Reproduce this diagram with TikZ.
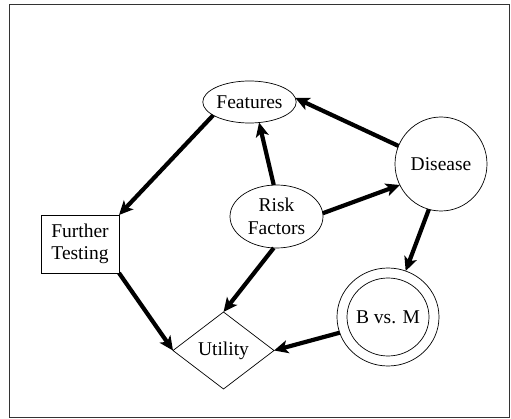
\documentclass[tikz,border=0pt]{standalone}
\usepackage{fontspec}
\setmainfont{Liberation Serif}
\usetikzlibrary{shapes.geometric,arrows.meta}
\begin{document}
\begin{tikzpicture}[x=1pt,y=-1pt,
  base/.style={font=\fontsize{19.5}{22.5}\selectfont, inner sep=0pt, outer sep=0pt, draw, line width=0.7pt, align=center},
  ell/.style={base, ellipse},
  box/.style={base, rectangle},
  dia/.style={base, diamond},
  link/.style={line width=4.2pt, -{Stealth[length=14pt,width=13pt,inset=3.5pt]}},
]
\useasboundingbox (0,0) rectangle (511,419);
\draw[line width=0.9pt, black!80] (9,4.5) rectangle (509,417.5);

\node[ell, minimum width=87pt, minimum height=42pt] (features) at (249.5,102) {Features};
\node[ell, minimum width=92pt, minimum height=94pt] (disease) at (441,164) {Disease};
\node[ell, minimum width=93pt, minimum height=63pt] (rf) at (276.5,216.5) {Risk\\Factors};
\node[box, minimum width=78pt, minimum height=58pt] (ft) at (80,244) {Further\\Testing};
\node[dia, minimum width=101pt, minimum height=77pt] (util) at (223.5,350.5) {Utility};
\node[ell, minimum width=102pt, minimum height=98pt] (bvm) at (388,317) {B vs. M};
\node[ell, minimum width=82pt, minimum height=78pt] (bvmin) at (bvm.center) {};

\draw[link] (features.200) -- (ft.north east);
\draw[link] (disease.157) -- (features.5);
\draw[link] (rf.95) -- (features.295);
\draw[link] (rf.4) -- (disease.207);
\draw[link] (disease.255) -- (bvm.69);
\draw[link] (rf.265) -- (util.north);
\draw[link] (ft.south east) -- (util.west);
\draw[link] (bvm.198) -- (util.east);
\end{tikzpicture}
\end{document}
